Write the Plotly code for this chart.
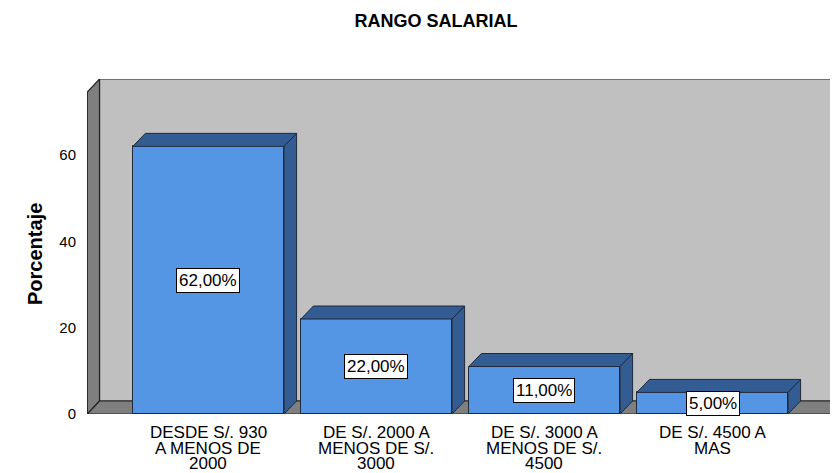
import plotly.graph_objects as go

# ---- data ----
categories = [
    ["DESDE S/. 930", "A MENOS DE", "2000"],
    ["DE S/. 2000 A", "MENOS DE S/.", "3000"],
    ["DE S/. 3000 A", "MENOS DE S/.", "4500"],
    ["DE S/. 4500 A", "MAS"],
]
percentages = [62.0, 22.0, 11.0, 5.0]
value_labels = ["62,00%", "22,00%", "11,00%", "5,00%"]
y_ticks = [0, 20, 40, 60]
chart_title = "RANGO SALARIAL"
y_title = "Porcentaje"

# ---- layout geometry (page has an 8px body margin) ----
OFF = 8
W, H = 838 - OFF, 473 - OFF
L, R, T, B = 87 - OFF, 0, 79 - OFF, 59
XMIN, XMAX = -0.723, 3.747
YMIN, YMAX = 0.0, 77.6
px_x = (W - L - R) / (XMAX - XMIN)
px_y = (H - T - B) / (YMAX - YMIN)
DX = 12.5 / px_x        # depth offset in x units
DY = 13.0 / px_y        # depth offset in y units
BW = 0.9

FRONT = "#5495E4"
DARK = "#335C93"
EDGE = "#1f2a3a"
WALL = "#C0C0C0"
SIDE = "#7F7F7F"
FONT = "Liberation Sans, Arial, sans-serif"

xs = list(range(len(percentages)))

fig = go.Figure()

# bar front faces
fig.add_trace(go.Bar(
    x=xs, y=percentages, width=BW,
    marker=dict(color=FRONT, line=dict(color=EDGE, width=1)),
    hoverinfo="skip", showlegend=False,
))

# 3D side and top faces derived from data
for x, v in zip(xs, percentages):
    xl, xr = x - BW / 2, x + BW / 2
    fig.add_trace(go.Scatter(
        x=[xl, xr, xr + DX, xl + DX, xl], y=[v, v, v + DY, v + DY, v],
        fill="toself", fillcolor=DARK, mode="lines",
        line=dict(color=EDGE, width=1), hoverinfo="skip", showlegend=False))
    fig.add_trace(go.Scatter(
        x=[xr, xr + DX, xr + DX, xr, xr], y=[0, DY, v + DY, v, 0],
        fill="toself", fillcolor=DARK, mode="lines",
        line=dict(color=EDGE, width=1), hoverinfo="skip", showlegend=False))

shapes = [
    dict(type="rect", xref="x", yref="y", x0=XMIN + DX, x1=XMAX + 1, y0=DY, y1=YMAX,
         fillcolor=WALL, line=dict(color="#222", width=1.2), layer="below"),
    dict(type="path", xref="x", yref="y",
         path=f"M {XMIN+0.002} 0 L {XMIN+0.002} {YMAX-DY} L {XMIN+DX} {YMAX} L {XMIN+DX} {DY} Z",
         fillcolor=SIDE, line=dict(color="#222", width=1.2), layer="below"),
    dict(type="path", xref="x", yref="y",
         path=f"M {XMIN+0.002} 0 L {3.73} 0 L {3.73+DX} {DY} L {XMIN+DX} {DY} Z",
         fillcolor=SIDE, line=dict(color="#222", width=1.2), layer="below"),
]

annotations = []
for x, v, t in zip(xs, percentages, value_labels):
    annotations.append(dict(
        x=x, y=v / 2, xref="x", yref="y", text=t, showarrow=False,
        font=dict(family=FONT, size=17, color="black"),
        bgcolor="white", bordercolor="black", borderwidth=1, borderpad=2))
for x, lines in zip(xs, categories):
    for i, ln in enumerate(lines):
        annotations.append(dict(
            x=x, y=0, xref="x", yref="y", text=ln, showarrow=False,
            yanchor="middle", yshift=-(18.5 + 15.5 * i),
            font=dict(family=FONT, size=17, color="black")))
annotations.append(dict(
    x=0, y=(414 - 254) / (H - T - B), xref="paper", yref="paper", xshift=22 - 87,
    text=f"<b>{y_title}</b>", textangle=-90, showarrow=False,
    font=dict(family=FONT, size=20, color="black")))

fig.update_layout(
    width=W, height=H,
    margin=dict(l=L, r=R, t=T, b=B, pad=0),
    paper_bgcolor="white", plot_bgcolor="white",
    title=dict(text=f"<b>{chart_title}</b>", x=(436 - OFF) / W, xanchor="center",
               y=1 - (21 - OFF) / H, yanchor="middle",
               font=dict(family=FONT, size=18, color="black")),
    shapes=shapes, annotations=annotations,
    xaxis=dict(range=[XMIN, XMAX], showgrid=False, zeroline=False,
               showticklabels=False, showline=False, fixedrange=True),
    yaxis=dict(range=[YMIN, YMAX], tickvals=y_ticks, showgrid=False,
               zeroline=False, showline=False, ticks="",
               ticklabelstandoff=10,
               tickfont=dict(family=FONT, size=15, color="black")),
    bargap=0,
)

fig.write_html("out.html")
